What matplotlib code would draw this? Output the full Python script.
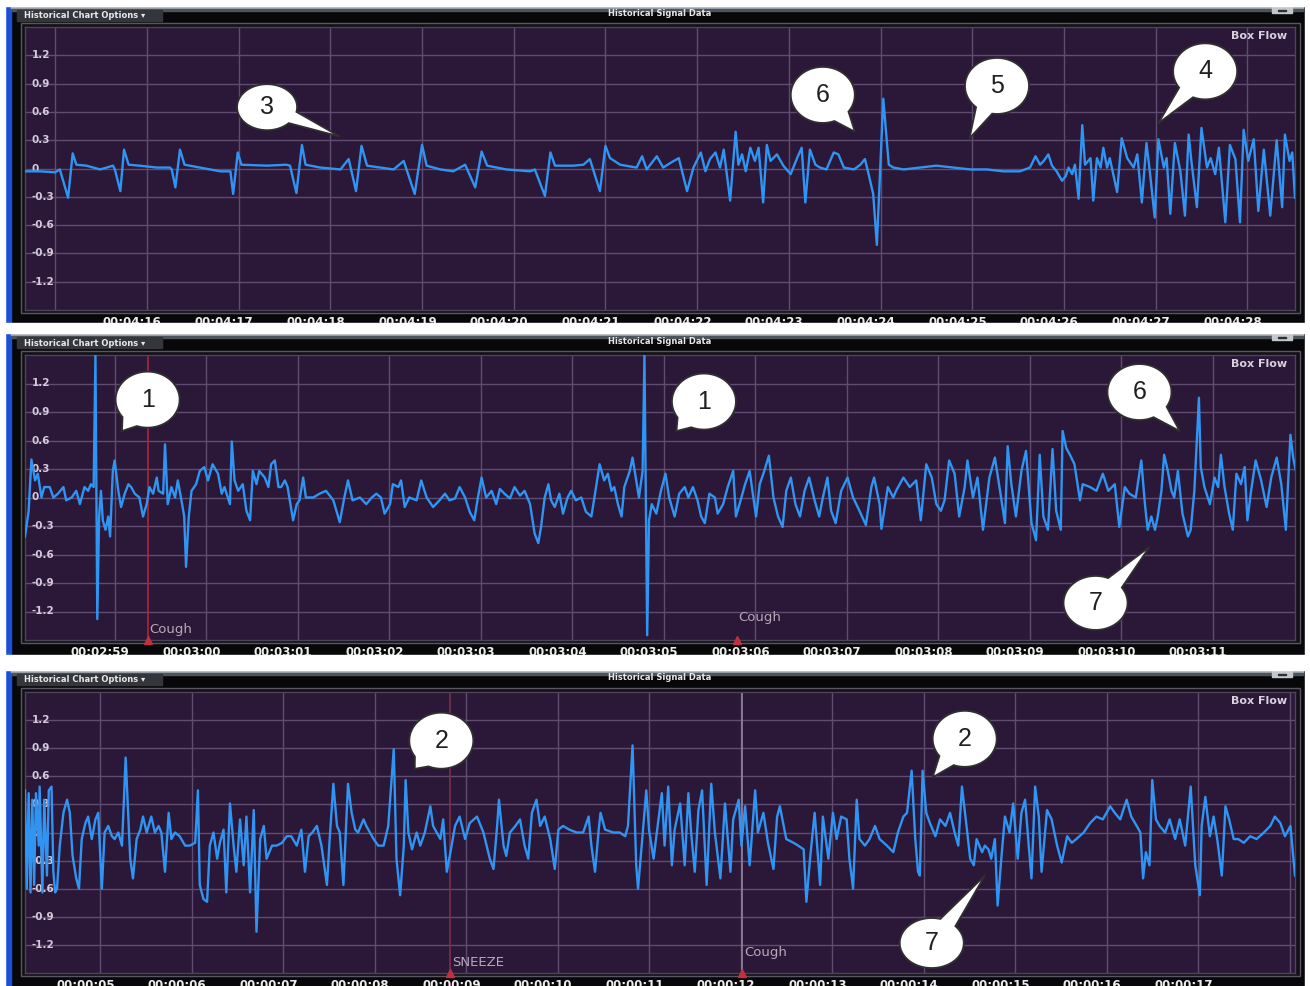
import numpy as np
import matplotlib
matplotlib.use("Agg")
import matplotlib.pyplot as plt
from matplotlib.patches import Rectangle, Polygon
from matplotlib.transforms import IdentityTransform, blended_transform_factory

W, H = 1310, 986

# Box flow traces, time in seconds (within the minute shown on the axis), flow units
flow1_t = [14.67, 14.83, 15.00, 15.05, 15.14, 15.19, 15.23, 15.34, 15.49, 15.63, 15.65, 15.71, 15.75, 15.80,
           15.92, 16.11, 16.25, 16.27, 16.31, 16.36, 16.41, 16.80, 16.91, 16.94, 16.99, 17.03, 17.31, 17.52,
           17.56, 17.63, 17.69, 17.73, 17.89, 18.11, 18.20, 18.28, 18.34, 18.40, 18.69, 18.80, 18.92, 19.00,
           19.05, 19.20, 19.34, 19.47, 19.58, 19.65, 19.71, 19.92, 20.18, 20.23, 20.34, 20.40, 20.45, 20.65,
           20.76, 20.83, 20.94, 21.00, 21.05, 21.16, 21.34, 21.40, 21.45, 21.56, 21.63, 21.71, 21.80, 21.89,
           21.96, 22.04, 22.09, 22.14, 22.20, 22.25, 22.29, 22.36, 22.42, 22.45, 22.49, 22.53, 22.58, 22.63,
           22.67, 22.72, 22.76, 22.80, 22.87, 22.94, 23.02, 23.09, 23.14, 23.18, 23.23, 23.29, 23.34, 23.41,
           23.49, 23.54, 23.60, 23.71, 23.78, 23.83, 23.87, 23.92, 23.96, 24.03, 24.09, 24.14, 24.25, 24.43,
           24.61, 24.80, 24.98, 25.16, 25.34, 25.52, 25.63, 25.69, 25.74, 25.78, 25.83, 25.87, 25.92, 25.98,
           26.02, 26.05, 26.09, 26.12, 26.16, 26.20, 26.23, 26.29, 26.32, 26.36, 26.40, 26.43, 26.47, 26.50,
           26.58, 26.63, 26.69, 26.76, 26.80, 26.85, 26.90, 26.94, 26.99, 27.03, 27.09, 27.12, 27.16, 27.21,
           27.27, 27.32, 27.36, 27.39, 27.45, 27.50, 27.56, 27.60, 27.65, 27.69, 27.76, 27.81, 27.87, 27.92,
           27.96, 28.01, 28.07, 28.12, 28.18, 28.25, 28.32, 28.38, 28.41, 28.46, 28.49, 28.52]
flow1_v = [-0.03, -0.03, -0.04, -0.01, -0.31, 0.16, 0.04, 0.03, -0.01, 0.03, -0.01, -0.24, 0.20, 0.04,
           0.03, 0.01, 0.01, -0.01, -0.20, 0.20, 0.04, -0.03, -0.03, -0.27, 0.17, 0.04, 0.03, 0.04,
           0.03, -0.26, 0.25, 0.04, 0.01, -0.01, 0.10, -0.24, 0.24, 0.03, -0.01, 0.08, -0.27, 0.25,
           0.03, -0.01, -0.03, 0.04, -0.20, 0.18, 0.03, -0.01, -0.03, -0.01, -0.29, 0.17, 0.03, 0.03,
           0.04, 0.10, -0.24, 0.24, 0.11, 0.04, 0.01, 0.13, -0.01, 0.13, 0.01, 0.06, 0.11, -0.24,
           0.01, 0.17, -0.03, 0.10, 0.17, 0.01, 0.20, -0.34, 0.39, 0.04, 0.15, -0.03, 0.22, 0.08,
           0.22, -0.36, 0.25, 0.08, 0.15, 0.03, -0.06, 0.11, 0.22, -0.36, 0.20, 0.04, 0.01, -0.01,
           0.17, 0.15, 0.01, -0.01, 0.04, 0.10, -0.06, -0.27, -0.81, 0.74, 0.04, 0.01, -0.01, 0.01,
           0.03, 0.01, -0.01, -0.01, -0.03, -0.03, 0.01, 0.13, 0.04, 0.08, 0.15, 0.03, -0.03, -0.13,
           -0.08, 0.01, -0.06, 0.04, -0.32, 0.46, 0.04, 0.11, -0.34, 0.11, 0.01, 0.22, 0.01, 0.11,
           -0.25, 0.32, 0.11, 0.01, 0.15, -0.36, 0.27, -0.06, -0.52, 0.31, 0.01, 0.11, -0.48, 0.27,
           -0.03, -0.50, 0.36, 0.08, -0.41, 0.43, 0.01, 0.11, -0.06, 0.22, -0.57, 0.25, 0.10, -0.57,
           0.41, 0.08, 0.31, -0.45, 0.20, -0.50, 0.30, -0.41, 0.36, 0.08, 0.17, -0.31]

flow2_t = [58.02, 58.06, 58.09, 58.13, 58.16, 58.20, 58.23, 58.29, 58.33, 58.38, 58.44, 58.47, 58.53, 58.58,
           58.62, 58.67, 58.71, 58.74, 58.77, 58.79, 58.81, 58.83, 58.85, 58.87, 58.90, 58.93, 58.95, 58.98,
           59.00, 59.04, 59.07, 59.11, 59.15, 59.18, 59.22, 59.27, 59.31, 59.35, 59.38, 59.42, 59.46, 59.48,
           59.53, 59.55, 59.58, 59.62, 59.66, 59.69, 59.73, 59.76, 59.78, 59.81, 59.84, 59.89, 59.93, 59.98,
           60.02, 60.07, 60.13, 60.17, 60.20, 60.26, 60.28, 60.31, 60.35, 60.40, 60.44, 60.48, 60.51, 60.55,
           60.58, 60.64, 60.68, 60.71, 60.75, 60.79, 60.82, 60.86, 60.89, 60.95, 60.99, 61.02, 61.06, 61.09,
           61.17, 61.24, 61.31, 61.39, 61.46, 61.51, 61.55, 61.60, 61.68, 61.75, 61.81, 61.86, 61.91, 61.95,
           62.01, 62.04, 62.10, 62.13, 62.17, 62.22, 62.30, 62.35, 62.41, 62.48, 62.55, 62.61, 62.66, 62.72,
           62.77, 62.83, 62.88, 62.93, 62.97, 63.01, 63.06, 63.12, 63.17, 63.21, 63.26, 63.32, 63.37, 63.43,
           63.48, 63.54, 63.59, 63.63, 63.66, 63.70, 63.74, 63.77, 63.81, 63.86, 63.90, 63.95, 63.99, 64.04,
           64.10, 64.15, 64.21, 64.25, 64.30, 64.35, 64.39, 64.43, 64.46, 64.50, 64.54, 64.57, 64.63, 64.66,
           64.70, 64.73, 64.77, 64.79, 64.82, 64.84, 64.87, 64.92, 64.97, 65.02, 65.06, 65.12, 65.17, 65.23,
           65.27, 65.32, 65.37, 65.41, 65.45, 65.50, 65.56, 65.59, 65.65, 65.70, 65.76, 65.79, 65.85, 65.89,
           65.94, 65.98, 66.01, 66.05, 66.10, 66.15, 66.20, 66.25, 66.30, 66.34, 66.39, 66.44, 66.49, 66.54,
           66.59, 66.65, 66.70, 66.74, 66.79, 66.83, 66.88, 66.94, 67.01, 67.07, 67.14, 67.21, 67.27, 67.30,
           67.36, 67.38, 67.45, 67.51, 67.54, 67.62, 67.69, 67.76, 67.81, 67.87, 67.93, 67.98, 68.03, 68.07,
           68.12, 68.18, 68.23, 68.29, 68.32, 68.38, 68.43, 68.49, 68.56, 68.62, 68.67, 68.73, 68.76, 68.80,
           68.85, 68.91, 68.96, 69.02, 69.07, 69.11, 69.15, 69.20, 69.25, 69.29, 69.34, 69.36, 69.40, 69.44,
           69.49, 69.55, 69.58, 69.66, 69.73, 69.80, 69.86, 69.93, 69.98, 70.04, 70.09, 70.16, 70.22, 70.26,
           70.29, 70.33, 70.37, 70.40, 70.44, 70.47, 70.51, 70.55, 70.58, 70.62, 70.67, 70.73, 70.76, 70.80,
           70.85, 70.87, 70.91, 70.97, 71.02, 71.06, 71.09, 71.13, 71.18, 71.22, 71.26, 71.31, 71.35, 71.38,
           71.42, 71.47, 71.53, 71.59, 71.64, 71.70, 71.75, 71.80, 71.85, 71.88, 71.91]
flow2_v = [-0.41, -0.14, 0.40, 0.18, 0.25, 0.00, 0.11, 0.11, 0.00, 0.04, 0.11, -0.03, 0.00, 0.07,
           -0.07, 0.11, 0.07, 0.14, 0.11, 1.50, -1.28, -0.20, 0.07, -0.24, -0.34, -0.20, -0.41, 0.28,
           0.39, 0.07, -0.10, 0.04, 0.14, 0.11, 0.04, 0.00, -0.20, -0.07, 0.11, 0.04, 0.21, 0.07,
           0.04, 0.56, -0.07, 0.11, 0.00, 0.18, -0.03, -0.20, -0.73, -0.20, 0.07, 0.14, 0.28, 0.32,
           0.18, 0.35, 0.25, 0.04, 0.11, -0.07, 0.59, 0.18, 0.07, 0.14, -0.14, -0.24, 0.28, 0.14,
           0.28, 0.21, 0.11, 0.35, 0.39, 0.11, 0.11, 0.18, 0.11, -0.24, -0.07, -0.03, 0.21, 0.00,
           0.00, 0.04, 0.07, -0.03, -0.26, 0.00, 0.18, -0.03, 0.00, -0.07, 0.00, 0.04, 0.00, -0.17,
           -0.07, 0.14, 0.11, 0.18, -0.10, 0.00, -0.03, 0.18, 0.00, -0.10, -0.03, 0.04, -0.03, -0.01,
           0.11, 0.00, -0.15, -0.24, 0.00, 0.21, 0.00, 0.07, -0.07, 0.09, 0.04, -0.01, 0.11, 0.02,
           0.07, -0.07, -0.38, -0.48, -0.31, 0.00, 0.14, -0.03, -0.10, 0.04, -0.17, 0.00, 0.07, -0.03,
           0.00, -0.15, -0.20, 0.04, 0.35, 0.18, 0.25, 0.07, 0.11, -0.07, -0.20, 0.11, 0.28, 0.42,
           0.18, 0.00, 0.28, 1.50, -1.45, -0.24, -0.07, -0.17, 0.07, 0.25, 0.00, -0.20, 0.04, 0.11,
           0.00, 0.11, -0.03, -0.20, -0.27, 0.04, 0.00, -0.17, -0.07, 0.11, 0.28, -0.20, 0.00, 0.14,
           0.28, 0.00, -0.20, 0.14, 0.28, 0.44, 0.00, -0.20, -0.31, 0.07, 0.21, -0.07, -0.20, 0.07,
           0.21, -0.03, -0.20, 0.00, 0.21, -0.14, -0.27, 0.07, 0.21, 0.00, -0.14, -0.29, 0.11, 0.21,
           -0.07, -0.33, 0.11, 0.00, 0.07, 0.21, 0.11, 0.18, -0.24, 0.35, 0.21, -0.07, -0.14, -0.03,
           0.39, 0.25, -0.20, 0.11, 0.39, 0.00, 0.21, -0.34, 0.21, 0.42, 0.11, -0.27, 0.54, 0.14,
           -0.20, 0.28, 0.49, -0.27, -0.45, 0.45, -0.20, -0.34, 0.51, -0.14, -0.34, 0.70, 0.52, 0.45,
           0.35, -0.03, 0.14, 0.11, 0.07, 0.25, 0.07, 0.14, -0.31, 0.11, 0.04, 0.00, 0.39, -0.07,
           -0.34, -0.20, -0.34, -0.20, 0.07, 0.45, 0.28, 0.07, 0.00, 0.28, -0.17, -0.41, -0.34, 0.07,
           1.05, 0.32, 0.11, -0.07, 0.21, 0.11, 0.45, 0.11, -0.17, -0.34, 0.25, 0.14, 0.32, -0.24,
           0.07, 0.39, 0.18, -0.10, 0.21, 0.42, 0.14, -0.34, 0.66, 0.42, 0.28]

flow3_t = [4.18, 4.20, 4.22, 4.24, 4.26, 4.28, 4.30, 4.33, 4.34, 4.37, 4.39, 4.42, 4.44, 4.47, 4.49, 4.51,
           4.53, 4.56, 4.60, 4.64, 4.67, 4.70, 4.74, 4.77, 4.80, 4.84, 4.87, 4.91, 4.95, 4.98, 5.02, 5.05,
           5.09, 5.13, 5.16, 5.20, 5.24, 5.28, 5.33, 5.36, 5.40, 5.44, 5.47, 5.51, 5.56, 5.60, 5.64, 5.67,
           5.71, 5.75, 5.78, 5.82, 5.87, 5.93, 5.98, 6.04, 6.07, 6.09, 6.13, 6.17, 6.20, 6.24, 6.28, 6.31,
           6.35, 6.38, 6.42, 6.46, 6.49, 6.53, 6.57, 6.60, 6.64, 6.68, 6.71, 6.75, 6.79, 6.82, 6.88, 6.93,
           6.99, 7.04, 7.09, 7.15, 7.20, 7.24, 7.28, 7.32, 7.37, 7.42, 7.48, 7.51, 7.55, 7.59, 7.62, 7.66,
           7.71, 7.75, 7.79, 7.82, 7.88, 7.91, 7.95, 7.99, 8.04, 8.10, 8.15, 8.21, 8.24, 8.28, 8.32, 8.34,
           8.37, 8.41, 8.46, 8.50, 8.55, 8.61, 8.64, 8.72, 8.75, 8.79, 8.83, 8.88, 8.93, 8.99, 9.04, 9.12,
           9.19, 9.26, 9.30, 9.34, 9.36, 9.41, 9.44, 9.48, 9.54, 9.59, 9.64, 9.68, 9.72, 9.77, 9.81, 9.86,
           9.92, 9.97, 10.01, 10.06, 10.13, 10.21, 10.28, 10.34, 10.37, 10.41, 10.45, 10.47, 10.52, 10.61,
           10.68, 10.74, 10.77, 10.82, 10.86, 10.88, 10.92, 10.97, 11.00, 11.05, 11.08, 11.14, 11.17, 11.21,
           11.25, 11.28, 11.34, 11.39, 11.43, 11.46, 11.50, 11.54, 11.58, 11.63, 11.68, 11.72, 11.78, 11.83,
           11.89, 11.92, 11.98, 12.01, 12.05, 12.10, 12.16, 12.19, 12.25, 12.30, 12.36, 12.40, 12.43, 12.50,
           12.58, 12.63, 12.69, 12.72, 12.76, 12.81, 12.87, 12.90, 12.96, 13.01, 13.05, 13.10, 13.16, 13.19,
           13.23, 13.27, 13.30, 13.36, 13.41, 13.47, 13.52, 13.60, 13.67, 13.72, 13.78, 13.82, 13.87, 13.91,
           13.94, 13.96, 13.99, 14.03, 14.07, 14.13, 14.18, 14.24, 14.29, 14.34, 14.38, 14.42, 14.47, 14.51,
           14.55, 14.58, 14.64, 14.67, 14.71, 14.74, 14.78, 14.81, 14.85, 14.89, 14.94, 14.98, 15.03, 15.07,
           15.11, 15.15, 15.18, 15.22, 15.26, 15.29, 15.35, 15.40, 15.46, 15.51, 15.57, 15.62, 15.67, 15.75,
           15.82, 15.89, 15.96, 16.04, 16.09, 16.15, 16.22, 16.27, 16.33, 16.37, 16.40, 16.43, 16.47, 16.50,
           16.54, 16.58, 16.64, 16.69, 16.75, 16.80, 16.86, 16.92, 16.97, 17.02, 17.04, 17.08, 17.13, 17.17,
           17.21, 17.26, 17.30, 17.34, 17.39, 17.44, 17.50, 17.57, 17.64, 17.72, 17.79, 17.84, 17.90, 17.95,
           18.01, 18.06]
flow3_v = [0.45, -0.60, 0.42, -0.64, 0.35, -0.56, 0.42, -0.14, 0.49, -0.64, 0.35, -0.46, 0.45, 0.49, -0.42, -0.64,
           -0.60, -0.14, 0.21, 0.35, 0.21, -0.25, -0.49, -0.60, -0.07, 0.10, 0.17, -0.07, 0.14, 0.21, -0.60, 0.00,
           0.07, -0.04, -0.07, 0.00, -0.14, 0.80, -0.28, -0.49, -0.07, 0.03, 0.17, 0.00, 0.17, 0.00, 0.07, 0.00,
           -0.42, 0.21, -0.07, 0.00, -0.04, -0.14, -0.14, -0.11, 0.45, -0.56, -0.71, -0.74, -0.14, 0.00, -0.28, -0.11,
           0.03, -0.64, 0.31, -0.14, -0.42, 0.14, -0.35, 0.17, -0.64, 0.24, -1.06, -0.07, 0.07, -0.28, -0.14, -0.14,
           -0.11, -0.04, -0.04, -0.14, 0.03, -0.42, -0.04, 0.00, 0.07, -0.14, -0.56, -0.07, 0.52, 0.07, 0.00, -0.56,
           0.52, 0.21, 0.03, 0.00, 0.14, 0.07, 0.00, -0.07, -0.14, -0.14, 0.07, 0.89, -0.28, -0.67, -0.14, 0.56,
           0.00, -0.18, 0.00, -0.14, 0.00, 0.28, 0.07, -0.07, 0.14, -0.42, -0.21, 0.07, 0.17, -0.07, 0.10, 0.17,
           0.00, -0.28, -0.39, 0.07, 0.35, -0.14, -0.25, 0.00, 0.07, 0.14, -0.14, -0.28, 0.21, 0.35, 0.07, 0.17,
           -0.07, -0.39, 0.03, 0.07, 0.03, 0.00, 0.00, 0.17, -0.14, -0.42, 0.03, 0.21, 0.03, 0.00,
           0.00, -0.04, 0.07, 0.93, -0.35, -0.60, -0.14, 0.45, 0.03, -0.28, -0.04, 0.42, -0.14, 0.49,
           -0.35, 0.03, 0.31, -0.35, 0.42, 0.00, -0.42, 0.24, 0.45, -0.56, 0.52, 0.00, -0.49, 0.31,
           -0.42, 0.14, 0.35, -0.14, 0.28, -0.35, 0.45, 0.00, 0.21, -0.11, -0.39, 0.17, 0.28, -0.07,
           -0.11, -0.14, -0.18, -0.74, -0.28, 0.21, -0.56, 0.17, -0.28, 0.21, -0.07, 0.17, 0.14, -0.28,
           -0.60, 0.35, -0.07, -0.14, -0.07, 0.07, -0.07, -0.14, -0.21, 0.00, 0.17, 0.21, 0.66, -0.07,
           -0.42, -0.46, 0.66, 0.21, 0.10, -0.04, 0.14, 0.07, 0.21, 0.00, -0.14, 0.49, 0.07, -0.28,
           -0.35, -0.07, -0.21, -0.14, -0.18, -0.28, -0.07, -0.78, -0.28, 0.17, 0.00, 0.31, -0.28, 0.21,
           0.35, -0.14, -0.49, 0.49, 0.17, -0.42, 0.24, 0.14, -0.14, -0.32, -0.04, -0.11, -0.07, 0.00,
           0.10, 0.17, 0.14, 0.28, 0.21, 0.14, 0.35, 0.17, 0.07, 0.00, -0.49, -0.21, -0.35, 0.56,
           0.14, 0.07, 0.00, 0.14, -0.07, 0.14, -0.14, 0.49, -0.35, -0.67, 0.07, 0.38, -0.04, 0.17,
           -0.07, -0.46, 0.28, 0.14, -0.07, -0.07, -0.11, -0.04, -0.07, 0.00, 0.07, 0.17, 0.10, -0.04,
           0.07, -0.46]

# time axis ticks (whole seconds) and their labels
ticks1 = list(range(16, 29))
labels1 = ["00:04:16", "00:04:17", "00:04:18", "00:04:19", "00:04:20", "00:04:21", "00:04:22",
           "00:04:23", "00:04:24", "00:04:25", "00:04:26", "00:04:27", "00:04:28"]
ticks2 = list(range(59, 72))
labels2 = ["00:02:59", "00:03:00", "00:03:01", "00:03:02", "00:03:03", "00:03:04", "00:03:05",
           "00:03:06", "00:03:07", "00:03:08", "00:03:09", "00:03:10", "00:03:11"]
ticks3 = list(range(5, 18))
labels3 = ["00:00:05", "00:00:06", "00:00:07", "00:00:08", "00:00:09", "00:00:10", "00:00:11",
           "00:00:12", "00:00:13", "00:00:14", "00:00:15", "00:00:16", "00:00:17"]

flow_ticks = [1.2, 0.9, 0.6, 0.3, 0.0, -0.3, -0.6, -0.9, -1.2]
flow_tick_labels = ["1.2", "0.9", "0.6", "0.3", "0", "-0.3", "-0.6", "-0.9", "-1.2"]

# logged events: time, name
events2 = [(59.36, "Cough"), (65.80, "Cough")]
events3 = [(8.83, "SNEEZE"), (12.02, "Cough")]

BG = "#2b1737"
GRID = "#5f4c70"
TRACE = "#2f94f2"


def bubble(ax, label, tip, centre, w=64, h=56):
    # speech bubble with its tail pointing at tip (both in data coords)
    cx, cy = ax.transData.transform(centre)
    tx, ty = ax.transData.transform(tip)
    ang = np.arctan2((ty - cy) / (h / 2), (tx - cx) / (w / 2))
    th = np.linspace(ang + 0.28, ang + 2 * np.pi - 0.28, 100)
    pts = np.column_stack([cx + w / 2 * np.cos(th), cy + h / 2 * np.sin(th)])
    pts = np.vstack([[tx, ty], pts])
    poly = Polygon(pts, closed=True, transform=IdentityTransform(), fc="white",
                   ec="#303030", lw=1.3, zorder=8, clip_on=False)
    ax.figure.add_artist(poly)
    ax.figure.text(cx / W, cy / H, label, ha="center", va="center", fontsize=18,
                   family="Liberation Sans", color="#202020", zorder=9)


def chrome(bg, ft, pt, pb, fb):
    bg.add_patch(Rectangle((5, ft), 1300, fb - ft, color="#08080b"))
    bg.add_patch(Rectangle((5, ft), 6, fb - ft, color="#1e50d6"))
    bg.add_patch(Rectangle((11, ft), 1292, 2.5, color="#aab0b6"))
    bg.add_patch(Rectangle((11, ft + 2.5), 1292, 2.5, color="#4e545b"))
    bg.add_patch(Rectangle((17, ft + 4), 145, 11, color="#34363b"))
    bg.text(24, ft + 10, "Historical Chart Options \u25be", fontsize=6, fontweight="bold",
            color="#e8e8e8", va="center", ha="left")
    bg.text(660, ft + 8, "Historical Signal Data", fontsize=6, fontweight="bold",
            color="#e8e8e8", va="center", ha="center")
    bg.add_patch(Rectangle((1272, ft + 1), 20, 6, color="#c4c8cc"))
    bg.add_patch(Rectangle((1278, ft + 3.5), 8, 1.5, color="#303030"))
    bg.add_patch(Rectangle((21, pt - 4), 1279, pb - pt + 7, fc="#131017", ec="#5a5560", lw=1))


def panel(fig, pt, pb, t, v, xlim, ticks, labels):
    ax = fig.add_axes([25 / W, 1 - pb / H, 1270 / W, (pb - pt) / H])
    ax.set_facecolor(BG)
    ax.set_xlim(*xlim)
    ax.set_ylim(-1.5, 1.5)
    for s in ax.spines.values():
        s.set_color("#4c4656")
        s.set_linewidth(1.0)
    ax.set_xticks([])
    ax.set_yticks([])
    for x in range(int(np.ceil(xlim[0])), int(xlim[1]) + 1):
        ax.axvline(x, color=GRID, lw=1.0, zorder=1)
    for y in flow_ticks:
        ax.axhline(y, color=GRID, lw=1.0, zorder=1)
    yt = blended_transform_factory(ax.transAxes, ax.transData)
    for y, s in zip(flow_ticks, flow_tick_labels):
        ax.text(0.0055, y, s, transform=yt, ha="left", va="center", fontsize=7.5,
                fontweight="bold", color="#d4cadc", zorder=3)
    ax.text(0.994, 0.985, "Box Flow", transform=ax.transAxes, ha="right", va="top",
            fontsize=8, fontweight="bold", color="#d8d0de", zorder=3)
    ax.plot(t, v, color=TRACE, lw=1.7, zorder=4, solid_joinstyle="round")
    xt = blended_transform_factory(ax.transData, ax.transAxes)
    off = 6 / (pb - pt)
    for x, s in zip(ticks, labels):
        ax.text(x - 0.16, -off, s, transform=xt, ha="center", va="top", fontsize=8.5,
                fontweight="bold", color="#eeeeee", clip_on=False)
    return ax


def event(ax, t, name, vtext, line_color=None):
    if line_color:
        ax.axvline(t, color=line_color, lw=1.2, zorder=2)
    ax.plot([t], [-1.5], marker="^", ms=6, color="#c0303e", clip_on=False, zorder=5)
    ax.text(t + 0.02, vtext, name, ha="left", va="center", fontsize=9.5,
            color="#b9a8ba", zorder=5)


fig = plt.figure(figsize=(W / 100, H / 100), dpi=100, facecolor="white")
bg = fig.add_axes([0, 0, 1, 1], zorder=-5)
bg.set_xlim(0, W)
bg.set_ylim(H, 0)
bg.axis("off")

frames = [(6, 27, 310, 323), (333, 355, 640, 655), (670, 692, 973, 986)]
for f in frames:
    chrome(bg, *f)

ax1 = panel(fig, 27, 310, flow1_t, flow1_v, (14.67, 28.52), ticks1, labels1)
ax2 = panel(fig, 355, 640, flow2_t, flow2_v, (58.02, 71.90), ticks2, labels2)
ax3 = panel(fig, 692, 973, flow3_t, flow3_v, (4.18, 18.06), ticks3, labels3)

event(ax2, events2[0][0], events2[0][1], -1.385, "#a8283a")
event(ax2, events2[1][0], events2[1][1], -1.26)
event(ax3, events3[0][0], events3[0][1], -1.39, "#7c3048")
event(ax3, events3[1][0], events3[1][1], -1.28, "#8f82a0")

# white gaps between the stacked windows (cuts the bottom of the time labels)
top = fig.add_axes([0, 0, 1, 1], zorder=20)
top.set_xlim(0, W)
top.set_ylim(H, 0)
top.axis("off")
top.patch.set_alpha(0)
for y0, y1 in [(0, 6), (323, 333), (655, 670)]:
    top.add_patch(Rectangle((0, y0), W, y1 - y0, color="white"))
top.add_patch(Rectangle((0, 0), 5, H, color="white"))
top.add_patch(Rectangle((1305, 0), 5, H, color="white"))

bubble(ax1, "3", (18.10, 0.34), (17.31, 0.65), w=60, h=46)
bubble(ax1, "6", (23.72, 0.39), (23.37, 0.78))
bubble(ax1, "5", (24.97, 0.32), (25.27, 0.875))
bubble(ax1, "4", (27.03, 0.48), (27.54, 1.03))
bubble(ax2, "1", (59.08, 0.70), (59.36, 1.03))
bubble(ax2, "1", (65.14, 0.70), (65.44, 1.01))
bubble(ax2, "6", (70.64, 0.70), (70.20, 1.11))
bubble(ax2, "7", (70.31, -0.52), (69.72, -1.11), h=54)
bubble(ax3, "2", (8.44, 0.68), (8.73, 0.98))
bubble(ax3, "2", (14.10, 0.59), (14.45, 1.00))
bubble(ax3, "7", (14.67, -0.46), (14.09, -1.18), h=50)

fig.savefig("out.png", dpi=100, facecolor="white")
